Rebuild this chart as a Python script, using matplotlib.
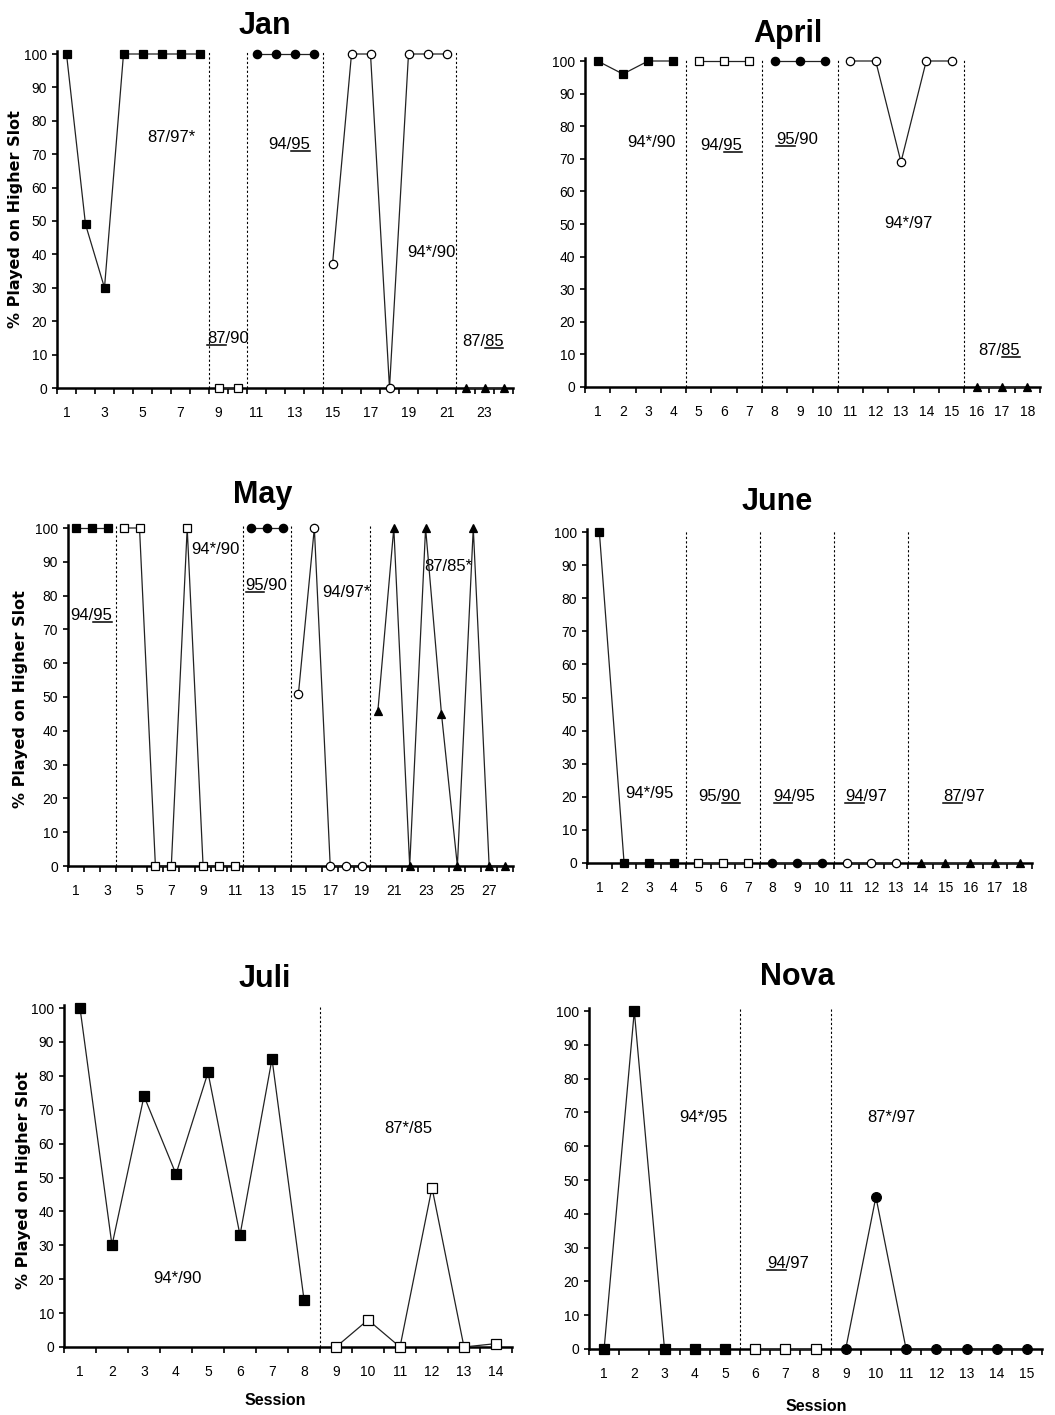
import matplotlib
matplotlib.use("Agg")
import matplotlib.pyplot as plt
from matplotlib.lines import Line2D
from matplotlib.ticker import FixedLocator, NullFormatter

plt.rcParams['font.family'] = ['Liberation Sans Narrow', 'Liberation Sans', 'DejaVu Sans']

# --- data: % played on higher slot per session, phase lengths, condition labels
# "_xx_" marks the underlined part of a condition label
JAN_VALUES = [100, 49, 30, 100, 100, 100, 100, 100, 0, 0, 100, 100, 100, 100,
              37, 100, 100, 0, 100, 100, 100, 0, 0, 0]
JAN_PHASES = [8, 2, 4, 7, 3]
JAN_CONDITIONS = ["87/97*", "_87_/90", "94/_95_", "94*/90", "87/_85_"]

APRIL_VALUES = [100, 96, 100, 100, 100, 100, 100, 100, 100, 100,
                100, 100, 69, 100, 100, 0, 0, 0]
APRIL_PHASES = [4, 3, 3, 5, 3]
APRIL_CONDITIONS = ["94*/90", "94/_95_", "_95_/90", "94*/97", "87/_85_"]

MAY_VALUES = [100, 100, 100, 100, 100, 0, 0, 100, 0, 0, 0, 100, 100, 100,
              51, 100, 0, 0, 0, 46, 100, 0, 100, 45, 0, 100, 0, 0]
MAY_PHASES = [3, 8, 3, 5, 9]
MAY_CONDITIONS = ["94/_95_", "94*/90", "_95_/90", "94/97*", "87/85*"]

JUNE_VALUES = [100, 0, 0, 0, 0, 0, 0, 0, 0, 0, 0, 0, 0, 0, 0, 0, 0, 0]
JUNE_PHASES = [4, 3, 3, 3, 5]
JUNE_CONDITIONS = ["94*/95", "95/_90_", "_94_/95", "_94_/97", "_87_/97"]

JULI_VALUES = [100, 30, 74, 51, 81, 33, 85, 14, 0, 8, 0, 47, 0, 1]
JULI_PHASES = [8, 6]
JULI_CONDITIONS = ["94*/90", "87*/85"]

NOVA_VALUES = [0, 100, 0, 0, 0, 0, 0, 0, 0, 45, 0, 0, 0, 0, 0]
NOVA_PHASES = [5, 3, 7]
NOVA_CONDITIONS = ["94*/95", "_94_/97", "87*/97"]

# --- layout (pixels in a 1055x1415 figure)
W, H = 1055, 1415
# marker per phase: (shape, face colour)
PHASE_MARKERS = [("s", "black"), ("s", "white"), ("o", "black"), ("o", "white"), ("^", "black")]

PANELS = [
    dict(name="Jan", values=JAN_VALUES, phases=JAN_PHASES, conds=JAN_CONDITIONS,
         box=(57, 513, 388, 54), title=(265, 34), step=2, ms=6, ylabel=(16, 219),
         cond_pos=[(6.5, 75), (9.5, 14.7), (12.7, 73), (20.2, 40.7), (22.9, 14)]),
    dict(name="April", values=APRIL_VALUES, phases=APRIL_PHASES, conds=APRIL_CONDITIONS,
         box=(585, 1040, 387, 61), title=(788, 42), step=1, ms=6, ylabel=None,
         cond_pos=[(3.14, 75), (5.9, 74), (8.9, 76), (13.3, 50), (16.9, 11.3)]),
    dict(name="May", values=MAY_VALUES, phases=MAY_PHASES, conds=MAY_CONDITIONS,
         box=(68, 513, 866, 528), title=(263, 503), step=2, ms=6, ylabel=(21, 699),
         cond_pos=[(1.95, 74), (9.8, 93.5), (13.0, 83), (18.0, 81), (24.4, 88.5)]),
    dict(name="June", values=JUNE_VALUES, phases=JUNE_PHASES, conds=JUNE_CONDITIONS,
         box=(587, 1032, 863, 532), title=(777, 510), step=1, ms=6, ylabel=None,
         cond_pos=[(3.03, 21), (5.85, 20), (8.9, 20), (11.8, 20), (15.75, 20)]),
    dict(name="Juli", values=JULI_VALUES, phases=JULI_PHASES, conds=JULI_CONDITIONS,
         box=(64, 512, 1347, 1008), title=(265, 987), step=1, ms=7.5, ylabel=(24, 1180),
         cond_pos=[(4.05, 20.3), (11.25, 64.6)], xlabel=(275, 1405)),
    dict(name="Nova", values=NOVA_VALUES, phases=NOVA_PHASES, conds=NOVA_CONDITIONS,
         box=(589, 1042, 1349, 1011), title=(797, 985), step=1, ms=7, ylabel=None,
         cond_pos=[(4.28, 68.6), (7.1, 25.4), (10.5, 68.6)], xlabel=(816, 1411)),
]

YTOP = 101
fig = plt.figure(figsize=(W / 100, H / 100), dpi=100)
underline_jobs = []


def parse_cond(spec):
    parts = spec.split("_")
    plain, segs, pos = "", [], 0
    for k, p in enumerate(parts):
        if k % 2 == 1:
            segs.append((pos, pos + len(p)))
        plain += p
        pos += len(p)
    return plain, segs


for p in PANELS:
    left, right, y0, y100 = p["box"]
    hpx = (y0 - y100) * YTOP / 100
    ax = fig.add_axes([left / W, 1 - y0 / H, (right - left) / W, hpx / H])
    n = len(p["values"])
    ax.set_xlim(0.5, n + 0.5)
    ax.set_ylim(0, YTOP)

    # phases: connected within a phase only
    start = 0
    for i, length in enumerate(p["phases"]):
        xs = list(range(start + 1, start + length + 1))
        ys = p["values"][start:start + length]
        shape, face = PHASE_MARKERS[i]
        ms = p["ms"] if shape != "^" else p["ms"] - 0.5
        ax.plot(xs, ys, color="#222222", lw=0.9, marker=shape, ms=ms,
                mfc=face, mec="black", mew=0.9, clip_on=False, zorder=4)
        if i < len(p["phases"]) - 1:
            ax.vlines(start + length + 0.5, 0, 100.5, colors="black",
                      linestyles=(0, (2, 2)), lw=0.8, zorder=1)
        start += length

    # condition labels
    for spec, (cx, cy) in zip(p["conds"], p["cond_pos"]):
        plain, segs = parse_cond(spec)
        t = ax.text(cx, cy, plain, ha="center", va="center", fontsize=12)
        if segs:
            underline_jobs.append((t, segs))

    for side in ["top", "right"]:
        ax.spines[side].set_visible(False)
    for side in ["left", "bottom"]:
        ax.spines[side].set_linewidth(1.8)

    ax.set_yticks(range(0, 101, 10))
    ax.tick_params(axis="y", direction="out", length=3.6, width=1.2, pad=3.5, labelsize=10)
    ax.set_xticks(range(1, n + 1, p["step"]))
    ax.tick_params(axis="x", which="major", length=0, pad=13, labelsize=10)
    ax.xaxis.set_minor_locator(FixedLocator([k + 0.5 for k in range(0, n + 1)]))
    ax.xaxis.set_minor_formatter(NullFormatter())
    ax.tick_params(axis="x", which="minor", direction="out", length=4.5, width=1.2)

    tx, ty = p["title"]
    fig.text(tx / W, 1 - ty / H, p["name"], ha="center", va="baseline",
             fontsize=22, fontweight="bold")
    if p["ylabel"]:
        lx, ly = p["ylabel"]
        fig.text(lx / W, 1 - ly / H, "% Played on Higher Slot", rotation=90,
                 ha="center", va="center", fontsize=11.5, fontweight="bold",
                 family=["DejaVu Sans"])
    if p.get("xlabel"):
        sx, sy = p["xlabel"]
        fig.text(sx / W, 1 - sy / H, "Session", ha="center", va="baseline",
                 fontsize=11.5, fontweight="bold")

# underline the marked parts of the condition labels
fig.canvas.draw()
r = fig.canvas.get_renderer()
inv = fig.transFigure.inverted()
for t, segs in underline_jobs:
    bb = t.get_window_extent(r)
    prop = t.get_fontproperties()
    s = t.get_text()
    desc = r.get_text_width_height_descent("lp", prop, ismath=False)[2]
    y = bb.y0 + desc - 2
    for i, j in segs:
        w0 = r.get_text_width_height_descent(s[:i], prop, ismath=False)[0] if i else 0
        w1 = r.get_text_width_height_descent(s[:j], prop, ismath=False)[0]
        (fx0, fy), (fx1, _) = inv.transform([[bb.x0 + w0, y], [bb.x0 + w1, y]])
        fig.add_artist(Line2D([fx0, fx1], [fy, fy], color="black", lw=1.1,
                              transform=fig.transFigure))

fig.savefig("out.png", dpi=100)
